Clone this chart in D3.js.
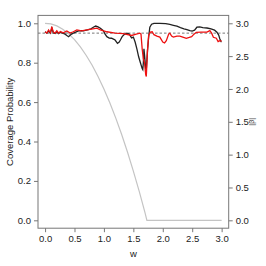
<!DOCTYPE html>
<html>
<head>
<meta charset="utf-8">
<script src="https://cdn.jsdelivr.net/npm/d3@7"></script>
<style>
  body { margin: 0; background: #fff; }
  svg text { font-family: "Liberation Sans", Arial, sans-serif; fill: #222; }
</style>
</head>
<body>
<div class="chart"></div>
<script>
// coverage probability, black series
const wBlack = [0.00,0.03,0.06,0.09,0.115,0.14,0.17,0.20,0.23,0.26,0.30,0.34,0.37,0.40,0.43,0.45,0.48,0.52,0.58,0.65,0.72,0.78,0.82,0.86,0.90,0.94,0.99,1.02,1.05,1.09,1.13,1.17,1.19,1.23,1.26,1.28,1.31,1.34,1.39,1.43,1.47,1.50,1.53,1.56,1.59,1.62,1.65,1.66,1.67,1.68,1.69,1.71,1.72,1.74,1.76,1.78,1.81,1.85,1.95,2.05,2.12,2.18,2.24,2.30,2.36,2.41,2.46,2.50,2.54,2.58,2.63,2.68,2.75,2.82,2.88,2.92,2.95,2.97,2.99,3.00];
const covBlack = [0.957,0.950,0.960,0.950,0.975,0.952,0.948,0.958,0.948,0.955,0.950,0.945,0.938,0.932,0.940,0.945,0.950,0.955,0.962,0.962,0.966,0.972,0.980,0.986,0.982,0.975,0.962,0.945,0.932,0.925,0.924,0.918,0.915,0.898,0.905,0.915,0.932,0.942,0.950,0.945,0.926,0.930,0.905,0.870,0.830,0.800,0.770,0.765,0.800,0.870,0.840,0.770,0.765,0.860,0.930,0.980,0.995,1.000,1.000,0.998,0.995,0.990,0.985,0.978,0.972,0.968,0.963,0.960,0.965,0.980,0.982,0.978,0.976,0.972,0.965,0.955,0.940,0.920,0.907,0.907];

// coverage probability, red series
const wRed = [0.00,0.03,0.06,0.09,0.115,0.14,0.17,0.20,0.23,0.26,0.31,0.37,0.425,0.48,0.54,0.62,0.71,0.79,0.88,0.94,1.05,1.19,1.33,1.47,1.55,1.61,1.63,1.65,1.67,1.69,1.71,1.72,1.74,1.76,1.79,1.82,1.85,1.90,1.95,2.00,2.03,2.06,2.10,2.12,2.15,2.18,2.24,2.29,2.34,2.40,2.45,2.49,2.53,2.57,2.65,2.75,2.80,2.83,2.86,2.91,2.94,2.97,3.00];
const covRed = [0.957,0.950,0.966,0.952,0.983,0.955,0.950,0.962,0.950,0.958,0.952,0.961,0.950,0.957,0.966,0.962,0.966,0.970,0.975,0.966,0.957,0.950,0.948,0.938,0.945,0.950,0.945,0.870,0.820,0.800,0.740,0.730,0.860,0.940,0.955,0.957,0.942,0.935,0.930,0.905,0.900,0.912,0.945,0.950,0.935,0.930,0.935,0.935,0.930,0.924,0.928,0.932,0.945,0.954,0.955,0.955,0.963,0.950,0.929,0.924,0.907,0.912,0.910];

// |beta| curve (right axis)
const wBeta = [0.00,0.10,0.20,0.30,0.40,0.50,0.60,0.70,0.80,0.90,1.00,1.10,1.20,1.30,1.40,1.50,1.60,1.70,1.73,3.00];
const beta = [3.00,2.99,2.96,2.91,2.84,2.75,2.64,2.51,2.36,2.19,2.00,1.79,1.56,1.31,1.04,0.75,0.44,0.11,0.00,0.00];

const nominal = 0.95;
const xTicks = [0,0.5,1,1.5,2,2.5,3];
const yTicksLeft = [0,0.2,0.4,0.6,0.8,1.0];
const yTicksRight = [0,0.5,1,1.5,2,2.5,3];

const svg_width = 266, svg_height = 266;
const plot = {left:38, right:228.7, top:15.4, bottom:228.2};

const svg = d3.select('.chart').append('svg')
  .attr('width', svg_width).attr('height', svg_height);

const x = d3.scaleLinear().domain([-0.12, 3.12]).range([plot.left, plot.right]);
const yL = d3.scaleLinear().domain([-0.04, 1.04]).range([plot.bottom, plot.top]);
const yR = d3.scaleLinear().domain([-0.12, 3.12]).range([plot.bottom, plot.top]);

// curves
const lineL = d3.line().x(d => x(d[0])).y(d => yL(d[1]));
const lineR = d3.line().x(d => x(d[0])).y(d => yR(d[1]));

svg.append('path').datum(d3.zip(wBeta, beta)).attr('d', lineR)
  .attr('fill','none').attr('stroke','#c4c4c4').attr('stroke-width',1.2);

svg.append('line')
  .attr('x1', plot.left).attr('x2', plot.right)
  .attr('y1', yL(nominal)).attr('y2', yL(nominal))
  .attr('stroke','#555').attr('stroke-width',0.8).attr('stroke-dasharray','2.5,2');

svg.append('path').datum(d3.zip(wBlack, covBlack)).attr('d', lineL)
  .attr('fill','none').attr('stroke','#222').attr('stroke-width',1.3);

svg.append('path').datum(d3.zip(wRed, covRed)).attr('d', lineL)
  .attr('fill','none').attr('stroke','#ee1111').attr('stroke-width',1.3);

// box
svg.append('rect')
  .attr('x', plot.left).attr('y', plot.top)
  .attr('width', plot.right - plot.left).attr('height', plot.bottom - plot.top)
  .attr('fill','none').attr('stroke','#777').attr('stroke-width',1);

// axes
const fmt = d3.format('.1f');
const xAxis = d3.axisBottom(x).tickValues(xTicks).tickFormat(fmt).tickSize(4).tickPadding(3);
const yAxisL = d3.axisLeft(yL).tickValues(yTicksLeft).tickFormat(fmt).tickSize(4).tickPadding(3);
const yAxisR = d3.axisRight(yR).tickValues(yTicksRight).tickFormat(fmt).tickSize(4).tickPadding(3);

const gx = svg.append('g').attr('transform', `translate(0,${plot.bottom})`).call(xAxis);
const gl = svg.append('g').attr('transform', `translate(${plot.left},0)`).call(yAxisL);
const gr = svg.append('g').attr('transform', `translate(${plot.right},0)`).call(yAxisR);

[gx, gl, gr].forEach(g => {
  g.select('.domain').remove();
  g.selectAll('line').attr('stroke','#777');
  g.selectAll('text').style('font-size','9.5px').style('fill','#222')
    .style('font-family','"Liberation Sans", Arial, sans-serif');
});

// axis titles
svg.append('text').attr('x', x(1.5)).attr('y', 257)
  .attr('text-anchor','middle').style('font-size','9.5px').text('w');

svg.append('text')
  .attr('transform', `translate(13,${(plot.top+plot.bottom)/2}) rotate(-90)`)
  .attr('text-anchor','middle').style('font-size','9.5px').text('Coverage Probability');

svg.append('text')
  .attr('transform', `translate(254,${(plot.top+plot.bottom)/2}) rotate(-90)`)
  .attr('text-anchor','middle').style('font-size','7px').text('|β|');
</script>
</body>
</html>
